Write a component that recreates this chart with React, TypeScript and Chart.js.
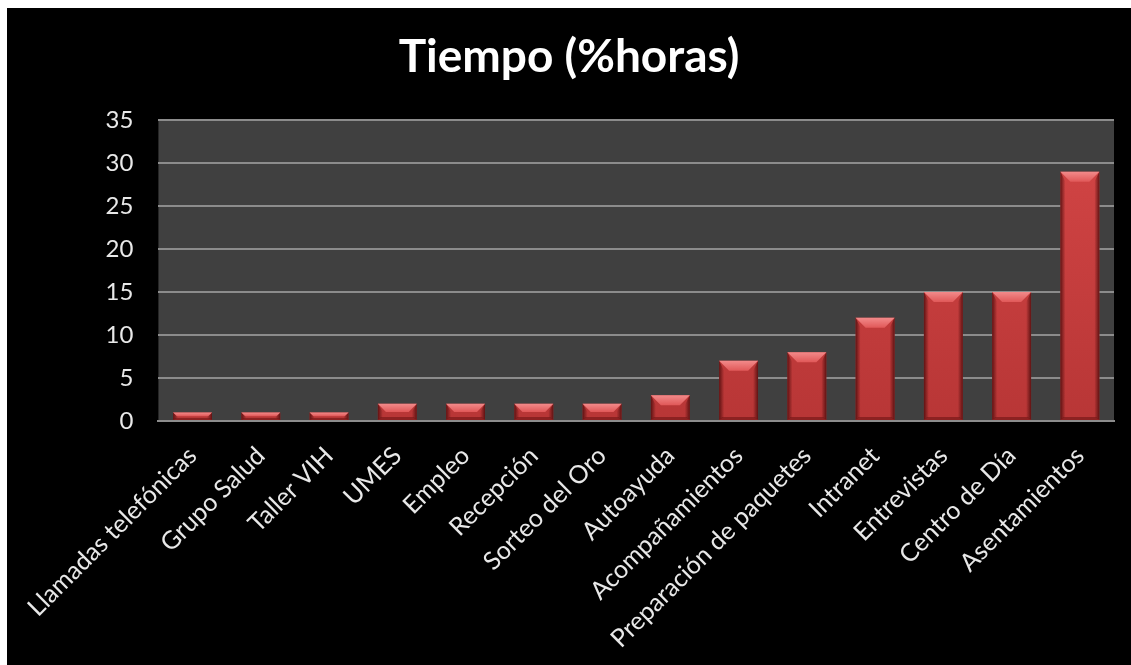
import React, { useEffect, useRef } from "react";
import { Chart, registerables } from "chart.js";

Chart.register(...registerables);

const categories = [
  "Llamadas telefónicas",
  "Grupo Salud",
  "Taller VIH",
  "UMES",
  "Empleo",
  "Recepción",
  "Sorteo del Oro",
  "Autoayuda",
  "Acompañamientos",
  "Preparación de paquetes",
  "Intranet",
  "Entrevistas",
  "Centro de Día",
  "Asentamientos",
];
const values = [1, 1, 1, 2, 2, 2, 2, 3, 7, 8, 12, 15, 15, 29];
const yTicks = [0, 5, 10, 15, 20, 25, 30, 35];
const titleText = "Tiempo (%horas)";

const plotBg = {
  id: "plotBg",
  beforeDraw(chart: any) {
    const { ctx, chartArea } = chart;
    ctx.save();
    ctx.fillStyle = "#404040";
    ctx.fillRect(chartArea.left, chartArea.top, chartArea.right - chartArea.left, chartArea.bottom - chartArea.top);
    ctx.restore();
  },
};

const bevel = {
  id: "bevel",
  afterDatasetsDraw(chart: any) {
    const { ctx } = chart;
    const meta = chart.getDatasetMeta(0);
    meta.data.forEach((bar: any) => {
      const { x, y, base, width } = bar.getProps(["x", "y", "base", "width"], true);
      const l = x - width / 2;
      const r = x + width / 2;
      const h = base - y;
      const b = Math.min(10, h / 2);
      const s = Math.min(5, width / 4);
      ctx.save();
      let g = ctx.createLinearGradient(l, 0, l + s, 0);
      g.addColorStop(0, "rgba(80,12,12,0.85)");
      g.addColorStop(1, "rgba(80,12,12,0)");
      ctx.fillStyle = g;
      ctx.beginPath();
      ctx.moveTo(l, y);
      ctx.lineTo(l + s, y + b);
      ctx.lineTo(l + s, base - Math.min(3, h / 4));
      ctx.lineTo(l, base);
      ctx.closePath();
      ctx.fill();
      g = ctx.createLinearGradient(r, 0, r - s, 0);
      g.addColorStop(0, "rgba(80,12,12,0.85)");
      g.addColorStop(1, "rgba(80,12,12,0)");
      ctx.fillStyle = g;
      ctx.beginPath();
      ctx.moveTo(r, y);
      ctx.lineTo(r - s, y + b);
      ctx.lineTo(r - s, base - Math.min(3, h / 4));
      ctx.lineTo(r, base);
      ctx.closePath();
      ctx.fill();
      g = ctx.createLinearGradient(0, y, 0, y + b);
      g.addColorStop(0, "#f28a8a");
      g.addColorStop(1, "#e05858");
      ctx.fillStyle = g;
      ctx.beginPath();
      ctx.moveTo(l, y);
      ctx.lineTo(r, y);
      ctx.lineTo(r - b, y + b);
      ctx.lineTo(l + b, y + b);
      ctx.closePath();
      ctx.fill();
      const bb = Math.min(3, h / 4);
      ctx.fillStyle = "rgba(110,20,20,0.6)";
      ctx.beginPath();
      ctx.moveTo(l, base);
      ctx.lineTo(r, base);
      ctx.lineTo(r - bb, base - bb);
      ctx.lineTo(l + bb, base - bb);
      ctx.closePath();
      ctx.fill();
      ctx.restore();
    });
  },
};

export default function App() {
  const ref = useRef<HTMLCanvasElement>(null);
  useEffect(() => {
    if (!ref.current) return;
    const chart = new Chart(ref.current, {
      type: "bar",
      data: {
        labels: categories,
        datasets: [
          {
            data: values,
            backgroundColor: (c: any) => {
              const area = c.chart.chartArea;
              if (!area) return "#c83c3c";
              const g = c.chart.ctx.createLinearGradient(0, area.top, 0, area.bottom);
              g.addColorStop(0, "#d44646");
              g.addColorStop(1, "#b83636");
              return g;
            },
            borderWidth: 0,
            barPercentage: 0.57,
            categoryPercentage: 1,
          },
        ],
      },
      options: {
        animation: false,
        responsive: true,
        maintainAspectRatio: false,
        layout: { padding: { left: 0, right: 0, top: 0, bottom: 0 } },
        plugins: {
          legend: { display: false },
          tooltip: { enabled: false },
          title: {
            display: true,
            text: titleText,
            color: "#ffffff",
            font: { family: "Lato", size: 46, weight: "bold" },
            padding: { top: 22, bottom: 35 },
          },
        },
        scales: {
          x: {
            grid: { display: false, drawTicks: false },
            border: { display: true, color: "#8c8c8c", width: 2 },
            ticks: {
              color: "#e8e8e8",
              font: { family: "Lato", size: 25 },
              maxRotation: 45,
              minRotation: 45,
              autoSkip: false,
              padding: 20,
            },
            afterFit: (s: any) => {
              s.height = 244;
            },
          },
          y: {
            min: 0,
            max: 35,
            afterBuildTicks: (s: any) => {
              s.ticks = yTicks.map((v) => ({ value: v }));
            },
            grid: { color: "#8c8c8c", lineWidth: 2, drawTicks: false },
            border: { display: false },
            ticks: {
              color: "#e8e8e8",
              font: { family: "Lato", size: 24 },
              padding: 25,
            },
            afterFit: (s: any) => {
              s.width = 150;
            },
          },
          yRight: {
            position: "right",
            display: true,
            min: 0,
            max: 35,
            grid: { display: false, drawTicks: false },
            border: { display: false },
            ticks: { display: false },
            afterFit: (s: any) => {
              s.width = 17;
            },
          },
        },
      },
      plugins: [plotBg, bevel],
    });
    return () => chart.destroy();
  }, []);
  return (
    <div style={{ position: "fixed", left: 7, top: 8, right: 0, bottom: 0, background: "#000" }}>
      <canvas ref={ref} />
    </div>
  );
}
